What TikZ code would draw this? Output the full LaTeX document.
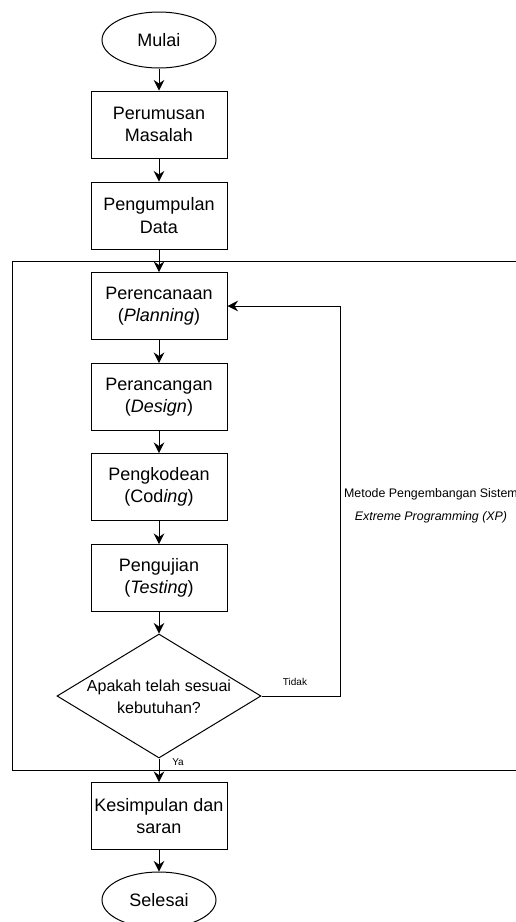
\documentclass[tikz,border=0pt]{standalone}
\usepackage{fontspec}
\setmainfont{Liberation Sans}
\usetikzlibrary{shapes.geometric,arrows.meta}
\begin{document}
\begin{tikzpicture}[x=1pt,y=-1pt,
  line width=1pt,
  every node/.style={font=\fontsize{18}{22.3}\selectfont},
  procbox/.style={draw,rectangle,minimum width=136pt,minimum height=67pt,inner sep=0pt,align=center},
  termnode/.style={draw,ellipse,minimum width=114pt,minimum height=56pt,inner sep=0pt},
  decnode/.style={draw,diamond,minimum width=204pt,minimum height=124pt,inner sep=0pt},
  smalllab/.style={font=\fontsize{10}{12}\selectfont,inner sep=0pt},
  conn/.style={-{Stealth[length=10.5pt,width=10.5pt,inset=3.5pt]}}]
\useasboundingbox (0,0) rectangle (516,922);
\clip (0,0) rectangle (516,922);
% outer frame
\draw (12,261) rectangle (540,770);
\node[smalllab,font=\fontsize{12.4}{23}\selectfont,align=center] (xp) at (431,506) {Metode Pengembangan Sistem\\\textit{Extreme Programming (XP)}};
% nodes
\node[termnode] (mulai) at (159,40) {Mulai};
\node[procbox] (rumus) at (159,124.5) {Perumusan\\Masalah};
\node[procbox] (kumpul) at (159,215.5) {Pengumpulan\\Data};
\node[procbox] (plan) at (159,306) {Perencanaan\\(\textit{Planning})};
\node[procbox] (design) at (159,397) {Perancangan\\(\textit{Design})};
\node[procbox] (code) at (159,487) {Pengkodean\\(Cod\textit{ing})};
\node[procbox] (test) at (159,578) {Pengujian\\(\textit{Testing})};
\node[decnode] (dec) at (159,696) {};
\node[align=center,inner sep=0pt,font=\fontsize{16}{22.3}\selectfont] (dectext) at (159,697) {Apakah telah sesuai\\kebutuhan?};
\node[procbox] (simpul) at (159,816) {Kesimpulan dan\\saran};
\node[termnode] (selesai) at (159,900) {Selesai};
\coordinate (loopb) at (340,696);
\coordinate (loopt) at (340,306);
% connectors
\draw[conn] (mulai) -- (rumus);
\draw[conn] (rumus) -- (kumpul);
\draw[conn] (kumpul) -- (plan);
\draw[conn] (plan) -- (design);
\draw[conn] (design) -- (code);
\draw[conn] (code) -- (test);
\draw[conn] (test) -- (dec);
\draw[conn] (dec.east) -- (loopb) -- (loopt) -- (plan.east);
\draw[conn] (dec.south) -- (simpul);
\draw[conn] (simpul) -- (selesai);
\node[smalllab] (tidak) at (295,682) {Tidak};
\node[smalllab] (ya) at (178,762) {Ya};
\end{tikzpicture}
\end{document}
